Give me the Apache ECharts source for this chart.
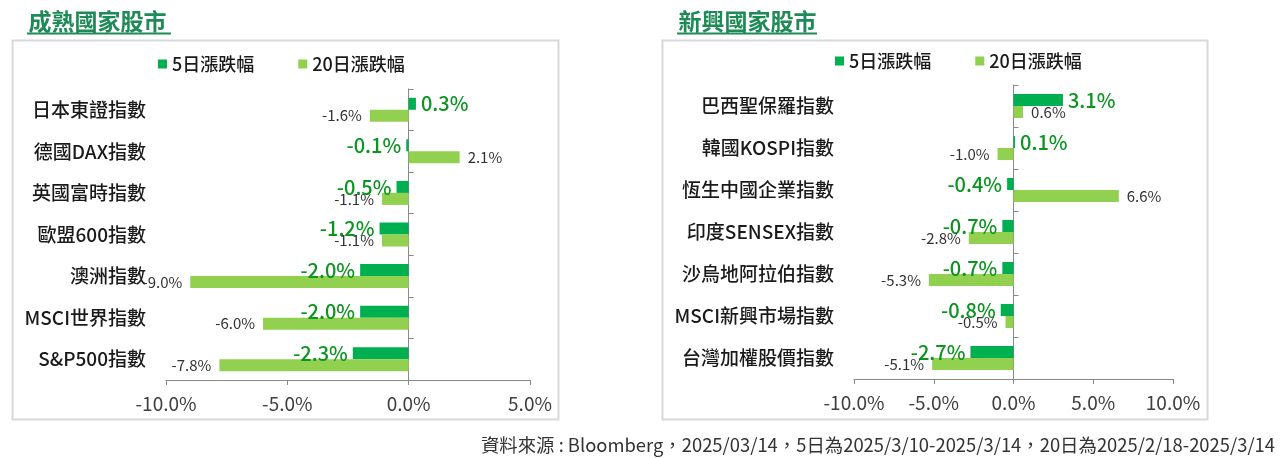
<!DOCTYPE html>
<html>
<head>
<meta charset="utf-8">
<title>成熟國家股市 / 新興國家股市</title>
<script src="https://cdn.jsdelivr.net/npm/echarts@6/dist/echarts.min.js"></script>
<style>
  html, body { margin: 0; padding: 0; background: #fff; }
  #chart { width: 1281px; height: 458px; }
</style>
</head>
<body>
<div id="chart"></div>
<script>
// data
const legendNames = ['5日漲跌幅', '20日漲跌幅']

const matureNames = ['日本東證指數', '德國DAX指數', '英國富時指數', '歐盟600指數', '澳洲指數', 'MSCI世界指數', 'S&P500指數']
const mature5d = [0.3, -0.1, -0.5, -1.2, -2.0, -2.0, -2.3]
const mature20d = [-1.6, 2.1, -1.1, -1.1, -9.0, -6.0, -7.8]

const emergingNames = ['巴西聖保羅指數', '韓國KOSPI指數', '恆生中國企業指數', '印度SENSEX指數', '沙烏地阿拉伯指數', 'MSCI新興市場指數', '台灣加權股價指數']
const emerging5d = [3.1, 0.1, -0.4, -0.7, -0.7, -0.8, -2.7]
const emerging20d = [0.6, -1.0, 6.6, -2.8, -5.3, -0.5, -5.1]

const footnote = '資料來源 : Bloomberg，2025/03/14，5日為2025/3/10-2025/3/14，20日為2025/2/18-2025/3/14'

const FONT = '"Noto Sans CJK TC", "Noto Sans", sans-serif'
const TITLE_GREEN = '#1e8a56'
const DARK_GREEN = '#00b050'
const LIGHT_GREEN = '#92d050'
const LABEL_GREEN = '#0a951f'
const AXIS_GRAY = '#898989'

let chart = echarts.init(document.getElementById('chart'), null, { renderer: 'canvas' })

function pct (v) {
  return v.toFixed(1) + '%'
}

// put the label on the outer end of each bar
function withLabelSide (values) {
  return values.map(v => ({ value: v, label: { position: v >= 0 ? 'right' : 'left' } }))
}

function xAxisFor (gridIndex, min, max) {
  return {
    type: 'value',
    gridIndex: gridIndex,
    min: min,
    max: max,
    interval: 5,
    axisLine: { show: true, lineStyle: { color: AXIS_GRAY } },
    axisTick: { show: true, length: 5, lineStyle: { color: AXIS_GRAY } },
    splitLine: { show: false },
    axisLabel: { formatter: pct, fontFamily: FONT, fontSize: 19, color: '#404040', margin: 14 }
  }
}

// one axis only for the names, one for the line sitting on zero
function yAxesFor (gridIndex, names) {
  return [
    {
      type: 'category',
      gridIndex: gridIndex,
      data: names,
      inverse: true,
      axisLine: { show: false, onZero: false },
      axisTick: { show: false },
      axisLabel: { fontFamily: FONT, fontSize: 19, fontWeight: 500, color: '#1a1a1a', margin: 20 }
    },
    {
      type: 'category',
      gridIndex: gridIndex,
      data: names,
      inverse: true,
      axisLine: { show: true, onZero: true, lineStyle: { color: AXIS_GRAY } },
      axisTick: { show: true, length: 5, lineStyle: { color: AXIS_GRAY } },
      axisLabel: { show: false }
    }
  ]
}

function barSeries (name, values, xIndex, yIndex, color, labelStyle) {
  return {
    name: name,
    type: 'bar',
    xAxisIndex: xIndex,
    yAxisIndex: yIndex,
    barWidth: 12,
    barGap: '0%',
    itemStyle: { color: color },
    label: Object.assign({ show: true, formatter: p => pct(p.value), fontFamily: FONT }, labelStyle),
    data: withLabelSide(values)
  }
}

const label5d = { fontSize: 20, fontWeight: 500, color: LABEL_GREEN, distance: 5 }
const label20d = { fontSize: 15, color: '#333', distance: 8 }

function legendAt (left, top) {
  return {
    data: legendNames,
    left: left,
    top: top,
    icon: 'rect',
    itemWidth: 9,
    itemHeight: 9,
    itemGap: 44,
    padding: 0,
    textStyle: { fontFamily: FONT, fontSize: 18, fontWeight: 500, color: '#1a1a1a' }
  }
}

function panelGraphics (x, width, title, underlineEnd) {
  return [
    {
      type: 'rect',
      shape: { x: x, y: 40.5, width: width, height: 379 },
      style: { fill: 'none', stroke: '#d9d9d9', lineWidth: 2 }
    },
    {
      type: 'text',
      x: x + 16,
      y: 21,
      style: { text: title, fontFamily: FONT, fontSize: 23, fontWeight: 'bold', fill: TITLE_GREEN, verticalAlign: 'middle' }
    },
    {
      type: 'line',
      shape: { x1: x + 14.5, y1: 33.5, x2: underlineEnd, y2: 33.5 },
      style: { stroke: TITLE_GREEN, lineWidth: 2 }
    }
  ]
}

let option = {
  animation: false,
  backgroundColor: '#fff',
  legend: [legendAt(158, 55), legendAt(835, 52)],
  grid: [
    { left: 166, top: 89, width: 364, height: 291 },
    { left: 854, top: 85, width: 319, height: 294 }
  ],
  xAxis: [xAxisFor(0, -10, 5), xAxisFor(1, -10, 10)],
  yAxis: yAxesFor(0, matureNames).concat(yAxesFor(1, emergingNames)),
  series: [
    barSeries(legendNames[0], mature5d, 0, 0, DARK_GREEN, label5d),
    barSeries(legendNames[1], mature20d, 0, 0, LIGHT_GREEN, label20d),
    barSeries(legendNames[0], emerging5d, 1, 2, DARK_GREEN, label5d),
    barSeries(legendNames[1], emerging20d, 1, 2, LIGHT_GREEN, label20d)
  ],
  graphic: panelGraphics(12.5, 546, '成熟國家股市', 171)
    .concat(panelGraphics(662.5, 545, '新興國家股市', 817))
    .concat([{
      type: 'text',
      x: 1275,
      y: 445,
      style: { text: footnote, fontFamily: FONT, fontSize: 18.4, fill: '#333', align: 'right', verticalAlign: 'middle' }
    }])
}

chart.setOption(option)
</script>
</body>
</html>
